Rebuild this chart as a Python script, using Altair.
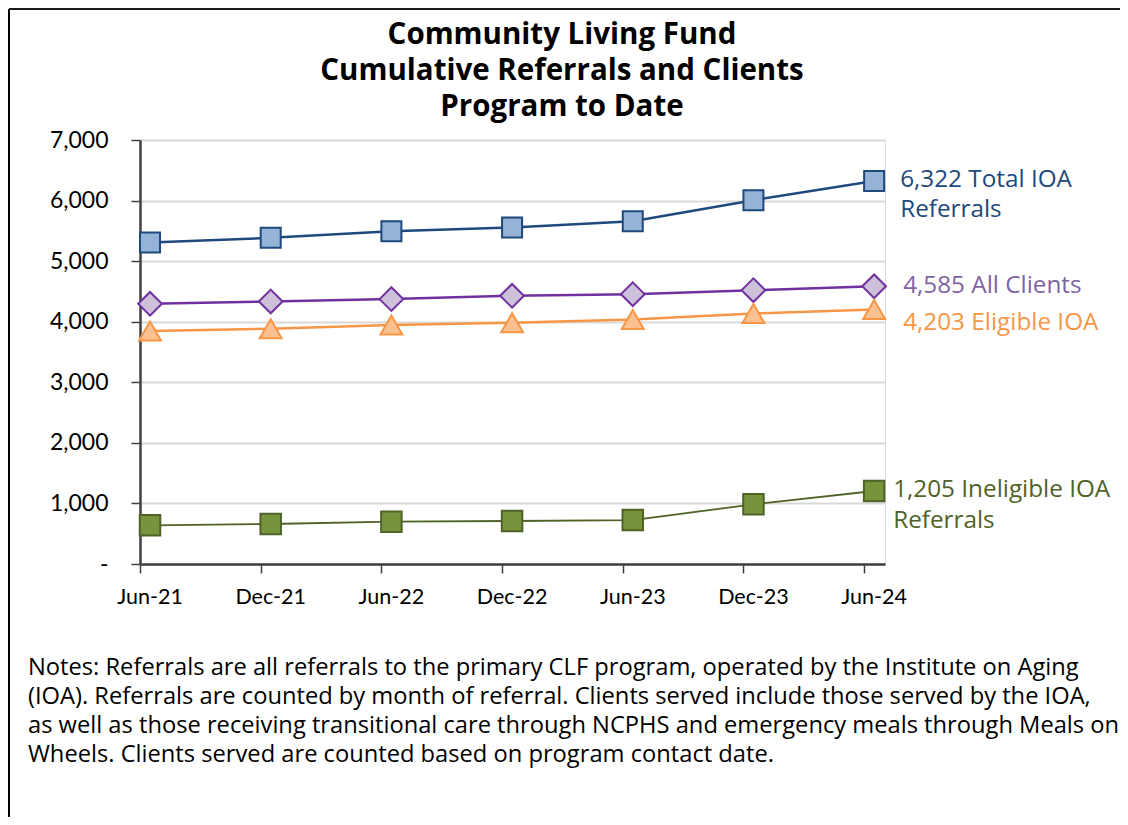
import altair as alt
import pandas as pd

# ---- data ----
x_labels = ["Jun-21", "Dec-21", "Jun-22", "Dec-22", "Jun-23", "Dec-23", "Jun-24"]
total_ioa = [5308, 5385, 5495, 5556, 5660, 6007, 6322]
all_clients = [4296, 4335, 4373, 4428, 4455, 4521, 4585]
eligible_ioa = [3845, 3883, 3944, 3982, 4038, 4137, 4203]
ineligible_ioa = [638, 660, 698, 710, 726, 985, 1205]

series_names = ["Total IOA Referrals", "All Clients", "Eligible IOA", "Ineligible IOA Referrals"]
end_label_lines = [
    ["6,322 Total IOA", "Referrals"],
    ["4,585 All Clients"],
    ["4,203 Eligible IOA"],
    ["1,205 Ineligible IOA", "Referrals"],
]
title_lines = ["Community Living Fund", "Cumulative Referrals and Clients", "Program to Date"]
notes_lines = [
    "Notes: Referrals are all referrals to the primary CLF program, operated by the Institute on Aging",
    "(IOA). Referrals are counted by month of referral. Clients served include those served by the IOA,",
    "as well as those receiving transitional care through NCPHS and emergency meals through Meals on",
    "Wheels. Clients served are counted based on program contact date.",
]

# ---- styling ----
FONT = "Lato"
FONT2 = "Open Sans"
line_colors = ["#1f497d", "#7030a0", "#f79646", "#4f6228"]
fill_colors = ["#95b3d7", "#ccc0da", "#fac090", "#77933c"]
text_colors = ["#1f497d", "#8064a2", "#f79646", "#4f6228"]
shapes = ["square", "diamond", "triangle-up", "square"]
sizes = [400, 560, 480, 420]
line_widths = [2.5, 2.5, 2.5, 1.8]
label_dx = [26, 29, 29, 19]
label_dy = [[-1, 29], [0], [14], [-1, 30]]

W, H = 745, 424
PAD_L, PAD_T, PAD_R, PAD_B = 132, 132, 235, 253
OFF = 0.083
x_scale = alt.Scale(domain=[-OFF, 6.09], nice=False, zero=False)
y_scale = alt.Scale(domain=[0, 7000], nice=False)

x_axis = alt.Axis(
    values=[i - OFF for i in range(len(x_labels))],
    labels=False,
    grid=False, tickSize=9, tickColor="#404040", tickWidth=1.5,
    domainColor="#404040", domainWidth=2.5, title=None,
)
y_axis = alt.Axis(
    values=list(range(0, 7001, 1000)),
    labelExpr="datum.value == 0 ? '-\u2007\u2007' : format(datum.value, ',')",
    grid=True, gridColor="#d9d9d9", gridWidth=1.8,
    tickSize=9, tickColor="#404040", tickWidth=1.5,
    domainColor="#404040", domainWidth=2.5,
    labelFont=FONT, labelFontSize=23, labelColor="#000000",
    labelPadding=23, title=None,
)

all_values = [total_ioa, all_clients, eligible_ioa, ineligible_ioa]


def X(field="idx:Q"):
    return alt.X(field, scale=x_scale, axis=x_axis)


def Y(field="value:Q"):
    return alt.Y(field, scale=y_scale, axis=y_axis)


layers = []
base_df = pd.DataFrame({"idx": list(range(len(x_labels))), "label": x_labels})

# outer frame (left and top edges, as in the reference)
frame_df = pd.DataFrame({"a": [0]})
layers.append(alt.Chart(frame_df).mark_rule(color="#000000", strokeWidth=2, clip=False).encode(
    x=alt.value(-PAD_L + 1), y=alt.value(-PAD_T + 1), y2=alt.value(H + PAD_B)))
layers.append(alt.Chart(frame_df).mark_rule(color="#1a1a1a", strokeWidth=2, clip=False).encode(
    x=alt.value(-PAD_L + 1), x2=alt.value(W + PAD_R), y=alt.value(-PAD_T + 1)))

# title, three centred lines
title_y = [-105, -69, -33]
for line, ty in zip(title_lines, title_y):
    layers.append(alt.Chart(pd.DataFrame({"t": [line]})).mark_text(
        align="center", baseline="middle", font=FONT2, fontSize=29.5, fontWeight="bold",
        color="#000000", clip=False,
    ).encode(x=alt.value(422), y=alt.value(ty), text="t:N"))

# category labels under the markers
layers.append(
    alt.Chart(base_df).mark_text(
        baseline="top", align="center", dy=23, font=FONT, fontSize=21.5, color="#000000", clip=False,
    ).encode(x=X(), y=alt.value(H), text="label:N")
)

frames = []
for k, name in enumerate(series_names):
    frames.append(pd.DataFrame({"idx": list(range(len(x_labels))), "label": x_labels,
                                "value": all_values[k], "series": name}))

for k in range(len(series_names)):
    layers.append(alt.Chart(frames[k]).mark_line(
        color=line_colors[k], strokeWidth=line_widths[k], clip=False
    ).encode(x=X(), y=Y()))

for k in range(len(series_names)):
    layers.append(alt.Chart(frames[k]).mark_point(
        shape=shapes[k], size=sizes[k], filled=True, fill=fill_colors[k],
        stroke=line_colors[k], strokeWidth=2, opacity=1, clip=False,
    ).encode(x=X(), y=Y()))
    last = frames[k].tail(1)
    for j, txt in enumerate(end_label_lines[k]):
        layers.append(
            alt.Chart(last).mark_text(
                text=txt, align="left", baseline="middle", dx=label_dx[k],
                dy=label_dy[k][j], font=FONT2, fontSize=24.3, color=text_colors[k], clip=False,
            ).encode(x=X(), y=Y())
        )

notes_df = pd.DataFrame({"t": ["\n".join(notes_lines)]})
layers.append(
    alt.Chart(notes_df).mark_text(
        align="left", baseline="top", lineBreak="\n", lineHeight=29,
        font=FONT2, fontSize=23.7, color="#000000", clip=False,
    ).encode(x=alt.value(-112), y=alt.value(516), text="t:N")
)

chart = alt.layer(*layers).properties(
    width=W, height=H,
    autosize=alt.AutoSizeParams(type="none"),
    padding={"left": PAD_L, "top": PAD_T, "right": PAD_R, "bottom": PAD_B},
).configure_view(
    stroke="#a6a6a6", strokeWidth=2.5
).configure(background="white")

chart.save("out.html", embed_options={"renderer": "svg", "actions": False})
